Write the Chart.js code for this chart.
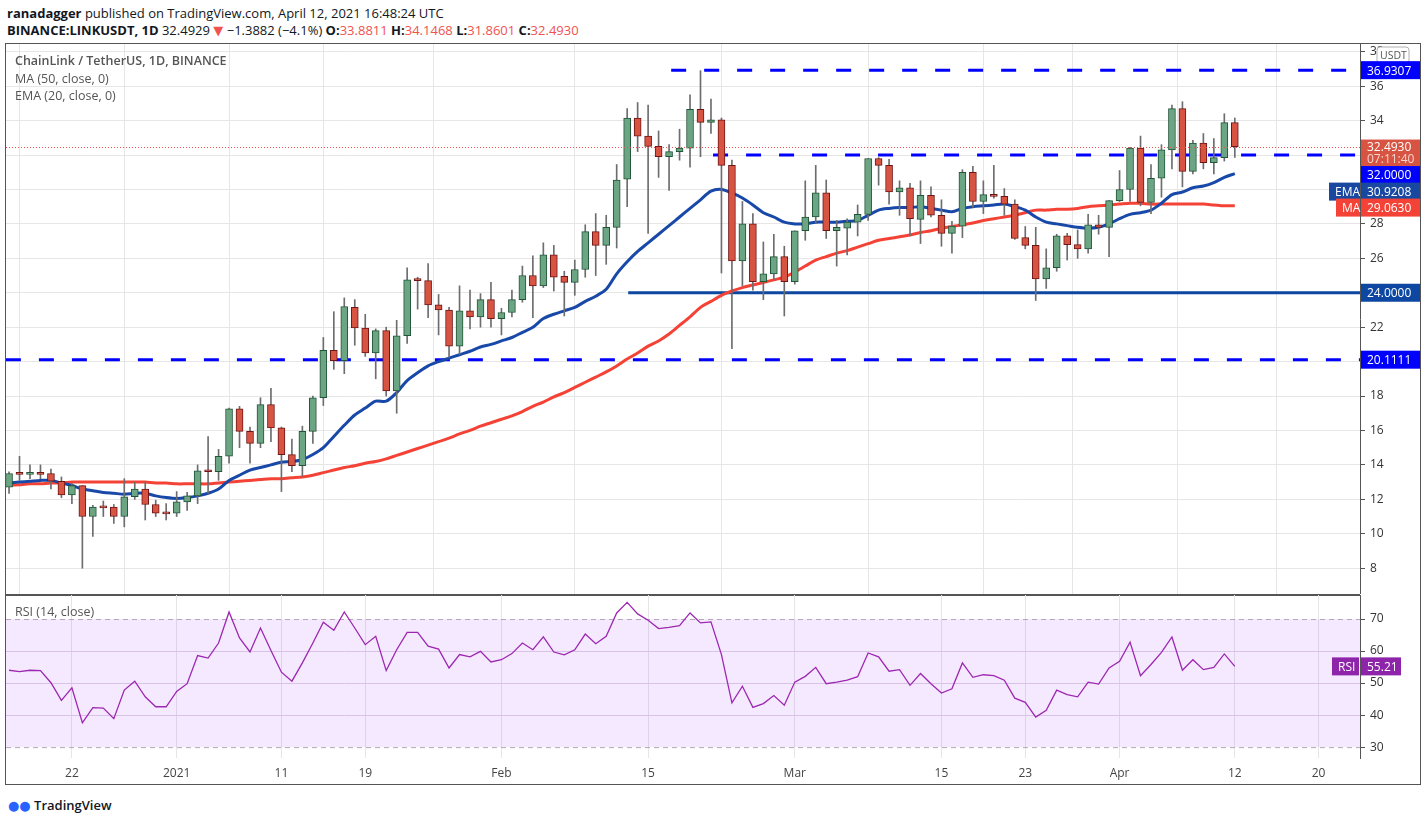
<!DOCTYPE html>
<html>
<head>
<meta charset="utf-8">
<script src="https://cdn.jsdelivr.net/npm/chart.js@4.4.1/dist/chart.umd.min.js"></script>
<style>
  body { margin: 0; background: #fff; font-family: "Open Sans", "DejaVu Sans", sans-serif; width: 1428px; height: 823px; overflow: hidden; position: relative; }
  .hdr { position: absolute; left: 7px; font-size: 13px; color: #131722; white-space: nowrap; }
  #frame { position: absolute; left: 5px; top: 43px; width: 1416px; height: 742px; border: 1px solid #555; box-sizing: border-box; }
  #pc { position: absolute; left: 6px; top: 44px; }
  #rc { position: absolute; left: 6px; top: 595px; }
  #sep { position: absolute; left: 6px; top: 594px; width: 1354px; height: 2px; background: #555; }
  .leg { position: absolute; left: 15px; font-size: 12.5px; color: #555; white-space: nowrap; }
  #logo { position: absolute; left: 8px; top: 796px; font-size: 13px; color: #131722; font-weight: 600; }
</style>
</head>
<body>
<div class="hdr" style="top:4px"><b>ranadagger</b> published on TradingView.com, April 12, 2021 16:48:24 UTC</div>
<div class="hdr" style="top:21px"><b>BINANCE:LINKUSDT, 1D</b> 32.4929 <span style="color:#ef5350">&#9660;</span> &minus;1.3882 (&minus;4.1%) <b>O:</b><span style="color:#ef5350">33.8811</span> <b>H:</b><span style="color:#ef5350">34.1468</span> <b>L:</b><span style="color:#ef5350">31.8601</span> <b>C:</b><span style="color:#ef5350">32.4930</span></div>
<div id="frame"></div>
<canvas id="pc"></canvas>
<div id="sep"></div>
<canvas id="rc"></canvas>
<div class="leg" style="top:52px;font-weight:600">ChainLink / TetherUS, 1D, BINANCE</div>
<div class="leg" style="top:70px">MA (50, close, 0)</div>
<div class="leg" style="top:87px">EMA (20, close, 0)</div>
<div id="logo"><span style="color:#2962ff">&#9679;&#9679;</span> TradingView</div>
<script>
// daily candles, Dec 16 2020 .. Apr 12 2021
const opens = [12.7,13.5,13.45,13.5,13.5,13.05,12.25,12.8,11.0,11.55,11.55,11.0,12.15,12.6,11.7,11.2,11.2,11.85,12.2,13.65,
  13.6,14.5,17.25,15.95,15.25,17.5,16.15,14.6,13.95,15.95,17.9,20.66,20.05,23.15,21.95,20.5,21.8,18.3,21.5,24.75,
  24.7,23.3,23.0,20.9,22.95,22.6,23.6,22.5,22.85,23.6,25.0,24.4,26.2,24.95,24.6,25.35,27.55,26.75,27.8,30.6,
  34.15,33.1,32.5,31.9,32.2,32.4,34.65,33.9,34.05,31.4,25.85,28.0,24.65,25.1,26.1,24.65,27.6,28.4,29.8,27.6,
  27.75,28.1,28.55,31.8,31.4,29.85,30.1,28.26,29.66,28.5,27.45,27.87,31.0,29.3,29.7,29.6,29.15,27.2,26.75,24.8,
  25.45,27.3,26.8,26.55,27.95,27.8,29.35,30.0,32.4,29.25,30.65,32.3,34.7,31.05,32.7,31.55,31.85,33.88];
const highs = [13.6,14.5,14.0,14.0,13.75,13.3,12.95,12.8,11.65,11.9,11.7,13.2,13.0,13.0,11.95,11.75,12.45,12.4,14.0,15.65,
  14.9,17.3,17.4,16.2,17.9,18.45,16.2,15.5,16.25,18.0,21.4,22.9,23.7,23.6,22.75,21.9,22.0,22.4,25.45,24.9,
  25.7,23.9,23.15,24.4,24.15,23.95,24.6,23.1,24.15,25.55,26.15,26.9,26.75,25.25,25.9,27.95,28.6,28.5,31.45,34.7,
  35.05,34.9,33.4,32.6,33.5,35.5,36.9,35.25,34.15,31.7,29.3,28.6,26.95,27.4,26.7,27.6,30.5,31.4,30.55,28.2,
  28.3,29.1,31.8,31.85,31.75,30.5,30.35,30.5,30.15,29.4,28.15,31.15,31.35,30.5,31.4,30.05,29.4,27.85,27.8,26.55,
  27.4,27.45,27.65,28.55,28.5,29.35,31.1,32.45,33.1,31.45,32.6,34.9,35.1,32.85,33.25,32.95,34.4,34.15];
const lows = [12.35,13.1,13.2,13.2,12.6,12.1,11.75,8.0,9.85,11.0,10.6,10.4,12.0,10.8,11.0,10.8,11.0,11.35,11.75,12.35,
  13.1,14.1,15.0,14.1,15.0,15.35,12.45,13.6,13.35,15.25,17.45,19.55,19.3,20.95,20.3,19.0,18.0,17.0,21.05,23.05,
  22.55,21.55,20.25,20.4,21.9,22.0,22.0,21.55,22.6,23.45,22.55,24.3,24.1,22.65,23.85,24.9,25.0,25.65,26.6,29.0,
  32.2,27.45,30.7,29.95,31.7,31.3,31.9,33.25,25.15,20.75,24.4,24.15,23.6,24.75,22.65,24.5,27.05,28.05,27.15,25.55,
  26.2,27.3,28.2,30.25,29.15,28.5,27.3,26.86,28.4,26.7,26.3,27.2,28.95,28.6,29.5,28.5,27.1,26.55,23.55,24.25,
  25.25,25.9,26.0,26.3,27.4,26.1,29.3,29.3,29.05,28.6,29.55,31.2,30.15,30.9,31.2,30.9,31.65,31.86];
const closes = [13.5,13.45,13.5,13.45,13.05,12.25,12.8,11.0,11.55,11.5,11.0,12.15,12.6,11.7,11.2,11.15,11.85,12.2,13.65,13.6,
  14.5,17.25,15.95,15.25,17.5,16.15,14.6,13.95,15.95,17.9,20.66,20.05,23.2,21.95,20.5,21.8,18.3,21.5,24.75,24.7,
  23.3,23.0,20.9,22.95,22.6,23.6,22.5,22.85,23.6,25.0,24.4,26.2,24.9,24.6,25.35,27.55,26.75,27.8,30.55,34.15,
  33.1,32.5,31.9,32.2,32.4,34.65,33.9,34.05,31.4,25.85,28.0,24.65,25.1,26.1,24.65,27.6,28.4,29.8,27.6,27.8,
  28.1,28.55,31.8,31.4,29.85,30.1,28.3,29.66,28.5,27.45,27.87,31.0,29.3,29.7,29.6,29.15,27.15,26.75,24.8,25.45,
  27.3,26.8,26.55,27.95,27.8,29.35,30.0,32.4,29.25,30.65,32.3,34.7,31.05,32.7,31.55,31.85,33.88,32.49];
const ema20 = [12.95,13.0,13.05,13.1,13.1,12.95,12.8,12.6,12.5,12.4,12.35,12.3,12.35,12.35,12.2,12.1,12.05,12.1,12.2,12.35,
  12.6,13.1,13.4,13.7,13.85,14.0,14.15,14.2,14.3,14.6,15.0,15.65,16.3,16.9,17.3,17.7,17.7,18.2,18.9,19.35,
  19.75,20.0,20.2,20.4,20.6,20.85,21.0,21.2,21.4,21.7,22.0,22.5,22.75,22.95,23.15,23.5,23.8,24.2,25.1,25.8,
  26.4,26.9,27.4,27.9,28.4,28.9,29.4,29.9,30.0,29.8,29.5,29.1,28.65,28.4,28.1,28.0,28.0,28.1,28.1,28.1,
  28.15,28.2,28.5,28.8,28.9,28.95,28.95,29.0,28.9,28.8,28.7,28.9,29.0,29.05,29.1,29.15,29.0,28.8,28.4,28.1,
  28.0,27.9,27.8,27.75,27.8,28.0,28.3,28.55,28.65,28.8,29.2,29.7,29.85,30.1,30.2,30.4,30.7,30.92];
const ma50 = [12.8,12.85,12.9,12.9,12.95,12.95,13.0,13.0,13.0,13.0,13.0,13.0,13.0,13.0,12.95,12.95,12.9,12.9,12.9,12.9,
  12.95,13.0,13.05,13.1,13.15,13.2,13.2,13.25,13.3,13.4,13.55,13.7,13.85,13.95,14.1,14.2,14.35,14.55,14.75,14.95,
  15.15,15.35,15.55,15.8,16.0,16.25,16.45,16.65,16.85,17.1,17.4,17.65,17.95,18.2,18.5,18.8,19.1,19.4,19.75,20.15,
  20.5,20.9,21.2,21.6,22.1,22.6,23.15,23.5,23.85,24.1,24.3,24.45,24.6,24.75,24.9,25.2,25.55,25.9,26.1,26.3,
  26.45,26.65,26.85,27.05,27.15,27.25,27.35,27.5,27.6,27.75,27.85,27.95,28.05,28.2,28.3,28.4,28.5,28.65,28.8,28.8,
  28.85,28.85,28.9,29.0,29.05,29.1,29.15,29.2,29.2,29.15,29.15,29.15,29.15,29.15,29.15,29.1,29.05,29.06];
const rsi14 = [54.0,53.6,54.0,53.9,50.1,44.6,48.5,37.6,42.3,42.2,38.9,47.8,50.6,45.7,42.6,42.6,47.4,49.8,58.6,57.8,
  62.5,72.2,64.1,59.7,67.2,60.2,53.4,50.6,56.3,62.5,69.0,66.5,72.2,67.2,62.0,64.6,53.9,60.4,65.8,65.8,
  61.5,60.6,54.7,58.9,58.2,59.9,56.6,57.3,59.2,62.5,60.4,64.4,59.7,58.8,60.4,65.3,62.3,64.6,71.9,75.2,
  71.6,69.6,67.0,67.4,67.9,71.9,68.8,69.1,58.9,43.8,49.0,42.4,43.6,46.1,43.1,50.3,52.1,54.9,49.8,50.3,
  50.9,52.0,59.4,58.2,53.7,54.2,49.3,53.0,49.8,46.9,48.2,56.3,51.8,52.6,52.3,50.9,45.3,44.0,39.4,41.5,
  47.8,46.4,45.7,50.3,49.7,54.7,56.8,62.8,52.3,55.8,59.6,64.4,54.0,57.3,54.2,54.9,59.1,55.2];
// key levels: [value, from day index, to day index, style]
const levels = [[36.9307, 63.2, 129, 'dash'], [32.0, 67.2, 128.5, 'dash'], [24.0, 59.1, 129, 'solid'], [20.1111, -0.3, 129, 'dash']];
const tickDays = [6, 16, 26, 34, 47, 61, 75, 89, 97, 106, 117, 125];
const tickText = ['22', '2021', '11', '19', 'Feb', '15', 'Mar', '15', '23', 'Apr', '12', '20'];
const priceTicks = [8,10,12,14,16,18,20,22,24,26,28,30,32,34,36,38];
const rsiTicks = [30, 40, 50, 60, 70];

const XMIN = -0.29, XMAX = 128.95;
const GREEN = '#6ba583', GREEN_B = '#225437', RED = '#d75442', RED_B = '#6f1515';
const FONT = { family: '"Open Sans", "DejaVu Sans", sans-serif', size: 12 };
const idx = closes.map((_, i) => i);

function xScale() {
  return {
    type: 'linear', min: XMIN, max: XMAX, offset: false,
    afterBuildTicks: s => { s.ticks = tickDays.map(v => ({ value: v })); },
    grid: { color: '#e6e6e6', drawTicks: false },
    border: { display: false }
  };
}

function yScale(min, max, ticks, gridColor) {
  return {
    position: 'right', min, max,
    afterBuildTicks: s => { s.ticks = ticks.map(v => ({ value: v })); },
    ticks: { display: false },
    grid: { color: gridColor, tickLength: 5, tickColor: '#555' },
    border: { color: '#555' },
    afterFit: s => { s.width = 60; }
  };
}

// y tick labels drawn by hand so Chart.js does not pad the plot area for them
function yLabels(c, ticks) {
  const ctx = c.ctx, y = c.scales.y, x0 = c.chartArea.right + 10;
  ctx.save();
  ctx.fillStyle = '#333'; ctx.font = '12px "Open Sans", "DejaVu Sans", sans-serif';
  ctx.textBaseline = 'middle'; ctx.textAlign = 'left';
  ticks.forEach(v => ctx.fillText(String(v), x0, y.getPixelForValue(v)));
  ctx.restore();
}

function tag(ctx, y, text, bg, x, w) {
  ctx.fillStyle = bg;
  ctx.fillRect(x, y - 9, w, 18);
  ctx.fillStyle = '#fff';
  ctx.font = '12px "Open Sans", "DejaVu Sans", sans-serif';
  ctx.textBaseline = 'middle';
  ctx.textAlign = 'left';
  ctx.fillText(text, x + 6, y + 1);
}

const priceTags = {
  id: 'priceTags',
  afterDraw(c) {
    const ctx = c.ctx, y = c.scales.y, x0 = c.chartArea.right + 1;
    yLabels(c, priceTicks);
    ctx.save();
    ctx.strokeStyle = '#b0b0b0'; ctx.fillStyle = '#fff';
    ctx.beginPath(); ctx.roundRect(x0 + 16, 3, 32, 17, 3); ctx.fill(); ctx.stroke();
    ctx.fillStyle = '#555'; ctx.font = '10.5px "Open Sans", sans-serif'; ctx.textBaseline = 'middle';
    ctx.fillText('USDT', x0 + 19, 12);
    tag(ctx, y.getPixelForValue(36.9307), '36.9307', '#0000ff', x0, 62);
    const ly = y.getPixelForValue(32.493);
    ctx.fillStyle = RED; ctx.fillRect(x0, ly - 7, 62, 27);
    ctx.fillStyle = '#fff'; ctx.font = '12px "Open Sans", sans-serif'; ctx.textBaseline = 'middle';
    ctx.fillText('32.4930', x0 + 6, ly + 1);
    ctx.fillStyle = '#f5d3ce'; ctx.fillText('07:11:40', x0 + 6, ly + 13);
    tag(ctx, y.getPixelForValue(32.0) + 20, '32.0000', '#0000ff', x0, 60);
    tag(ctx, y.getPixelForValue(30.9208) + 18, '30.9208', '#1848a0', x0, 60);
    tag(ctx, y.getPixelForValue(30.9208) + 18, 'EMA', '#1848a0', x0 - 32, 31);
    tag(ctx, y.getPixelForValue(29.063) + 2, '29.0630', '#f44336', x0, 60);
    tag(ctx, y.getPixelForValue(29.063) + 2, 'MA', '#f44336', x0 - 25, 24);
    tag(ctx, y.getPixelForValue(24.0), '24.0000', '#0d47a1', x0, 60);
    tag(ctx, y.getPixelForValue(20.1111), '20.1111', '#0000ff', x0, 60);
    // current price dotted line
    ctx.strokeStyle = '#ef5350'; ctx.setLineDash([1, 2]); ctx.lineWidth = 1;
    const py = Math.round(ly) + 0.5;
    ctx.beginPath(); ctx.moveTo(c.chartArea.left, py); ctx.lineTo(c.chartArea.right, py); ctx.stroke();
    ctx.restore();
  }
};

const levelSets = levels.map(l => ({
  type: 'line',
  data: [{ x: l[1], y: l[0] }, { x: l[2], y: l[0] }],
  borderColor: l[3] === 'solid' ? '#0d47a1' : '#0000ff',
  borderWidth: 3,
  borderDash: l[3] === 'solid' ? [] : [15, 18],
  pointRadius: 0,
  order: 5
}));

const up = i => closes[i] >= opens[i];
const pc = document.getElementById('pc');
pc.width = 1414; pc.height = 550;
new Chart(pc, {
  type: 'bar',
  data: {
    datasets: [
      { type: 'line', data: idx.map(i => ({ x: i, y: ma50[i] })), borderColor: '#f44336', borderWidth: 3, pointRadius: 0, tension: 0.3, order: 4 },
      { type: 'line', data: idx.map(i => ({ x: i, y: ema20[i] })), borderColor: '#1848a8', borderWidth: 3, pointRadius: 0, tension: 0.3, order: 3 },
      ...levelSets,
      { data: idx.map(i => ({ x: i, y: [lows[i], highs[i]] })), backgroundColor: '#6d6d70', barThickness: 1, grouped: false, order: 2 },
      { data: idx.map(i => ({ x: i, y: [opens[i], closes[i]] })), backgroundColor: c => up(c.dataIndex) ? GREEN : RED,
        borderColor: c => up(c.dataIndex) ? GREEN_B : RED_B, borderWidth: 1, borderSkipped: false, barThickness: 7, minBarLength: 2, grouped: false, order: 1 }
    ]
  },
  options: {
    responsive: false, animation: false, devicePixelRatio: 1,
    layout: { padding: 0 },
    plugins: { legend: { display: false }, tooltip: { enabled: false } },
    scales: {
      x: Object.assign(xScale(), { ticks: { display: false }, afterFit: s => { s.height = 0; } }),
      y: yScale(6.5, 38.45, priceTicks, '#e6e6e6')
    }
  },
  plugins: [priceTags]
});

const rsiPlugin = {
  id: 'rsiBand',
  beforeDatasetsDraw(c) {
    const ctx = c.ctx, y = c.scales.y, a = c.chartArea;
    const y70 = y.getPixelForValue(70), y30 = y.getPixelForValue(30);
    ctx.save();
    ctx.fillStyle = 'rgba(156, 39, 255, 0.1)';
    ctx.fillRect(a.left, y70, a.right - a.left, y30 - y70);
    ctx.strokeStyle = '#b5a6b8'; ctx.setLineDash([5, 4]); ctx.lineWidth = 1;
    [y70, y30].forEach(p => { ctx.beginPath(); ctx.moveTo(a.left, p + 0.5); ctx.lineTo(a.right, p + 0.5); ctx.stroke(); });
    ctx.restore();
  },
  afterDraw(c) {
    const ctx = c.ctx, y = c.scales.y, x0 = c.chartArea.right + 1;
    yLabels(c, rsiTicks);
    ctx.save();
    tag(ctx, y.getPixelForValue(55.21), '55.21', '#8e24aa', x0, 40);
    tag(ctx, y.getPixelForValue(55.21), 'RSI', '#8e24aa', x0 - 29, 27);
    ctx.fillStyle = '#555'; ctx.font = '12.5px "Open Sans", sans-serif'; ctx.textBaseline = 'middle'; ctx.textAlign = 'left';
    ctx.fillText('RSI (14, close)', 9, 17);
    ctx.restore();
  }
};

const rc = document.getElementById('rc');
rc.width = 1414; rc.height = 189;
new Chart(rc, {
  type: 'line',
  data: { datasets: [{ data: idx.map(i => ({ x: i, y: rsi14[i] })), borderColor: '#9c27b0', borderWidth: 1.3, pointRadius: 0 }] },
  options: {
    responsive: false, animation: false, devicePixelRatio: 1,
    layout: { padding: 0 },
    plugins: { legend: { display: false }, tooltip: { enabled: false } },
    scales: {
      x: Object.assign(xScale(), {
        ticks: { color: '#444', font: FONT, padding: 8, callback: v => tickText[tickDays.indexOf(v)] },
        afterFit: s => { s.height = 26; }
      }),
      y: yScale(26.6, 77.5, rsiTicks, c => (c.tick && (c.tick.value === 30 || c.tick.value === 70)) ? 'rgba(0,0,0,0)' : '#e0d4e6')
    }
  },
  plugins: [rsiPlugin]
});
</script>
</body>
</html>
